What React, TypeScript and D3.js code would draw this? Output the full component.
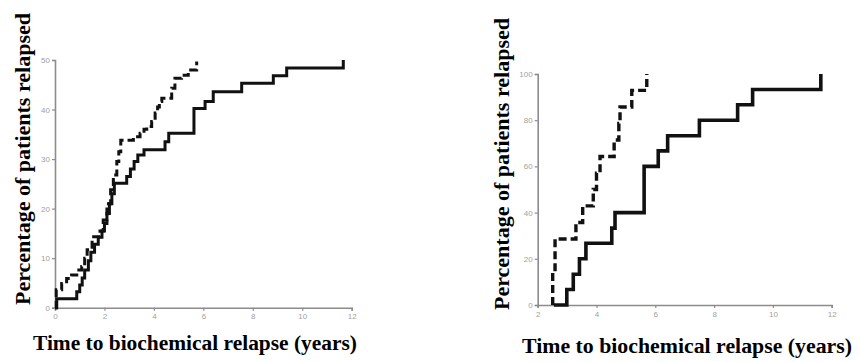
import React, { useEffect, useRef } from 'react';
import * as d3 from 'd3';

// left panel: years / cumulative % relapsed
const leftSolidYears = [0, 0.07, 0.88, 1.0, 1.1, 1.2, 1.35, 1.45, 1.6, 1.75, 1.9, 2.0, 2.1, 2.2, 2.3, 2.4, 2.9, 3.05, 3.2, 3.35, 3.6, 4.45, 4.6, 5.62, 6.07, 6.4, 7.55, 8.83, 9.37, 11.66];
const leftSolidPct = [0, 1.8, 3.2, 4.6, 6.0, 7.6, 9.5, 11.2, 12.8, 14.2, 15.5, 17.0, 19.0, 21.0, 23.0, 25.1, 26.5, 28.0, 29.5, 30.8, 31.9, 33.5, 35.2, 40.2, 41.6, 43.6, 45.3, 46.8, 48.4, 50];
const leftDashedYears = [0, 0.05, 0.27, 0.47, 0.67, 0.88, 1.08, 1.2, 1.3, 1.5, 1.82, 1.95, 2.1, 2.25, 2.36, 2.5, 2.58, 2.66, 3.17, 3.44, 3.6, 3.71, 3.91, 4.05, 4.15, 4.22, 4.32, 4.72, 4.85, 5.12, 5.39, 5.73];
const leftDashedPct = [0, 3.6, 4.9, 5.9, 6.6, 7.6, 8.3, 10.0, 11.7, 14.3, 15.5, 17.7, 21.0, 23.8, 26.8, 29.5, 31.5, 33.8, 34.5, 35.2, 36.0, 36.6, 37.6, 39.3, 40.5, 41.6, 42.3, 44.3, 46.3, 46.9, 48.0, 49.7];
const leftXTicks = [0, 2, 4, 6, 8, 10, 12];
const leftYTicks = [0, 10, 20, 30, 40, 50];

// right panel
const rightSolidYears = [2.55, 2.99, 3.21, 3.42, 3.64, 4.52, 4.63, 5.62, 6.10, 6.42, 7.50, 8.80, 9.31, 11.63];
const rightSolidPct = [0, 6.7, 13.3, 20, 26.7, 33.3, 40, 60, 66.7, 73.3, 80, 86.7, 93.3, 100];
const rightDashedYears = [2.51, 2.51, 2.59, 3.30, 3.53, 3.89, 4.0, 4.12, 4.6, 4.76, 4.80, 5.2, 5.71];
const rightDashedPct = [0, 14.3, 28.6, 35.7, 42.9, 50, 57.1, 64.3, 71.4, 78.6, 85.7, 92.9, 100];
const rightXTicks = [2, 4, 6, 8, 10, 12];
const rightYTicks = [0, 20, 40, 60, 80, 100];

const xTitle = 'Time to biochemical relapse (years)';
const yTitle = 'Percentage of patients relapsed';

const App = () => {
    const svgRef = useRef<SVGSVGElement>(null);

    useEffect(() => {
        const svg = d3.select(svgRef.current);
        svg.selectAll('*').remove();

        const drawPanel = (cfg: any) => {
            const x = d3.scaleLinear().domain(cfg.xDomain).range(cfg.xRange);
            const y = d3.scaleLinear().domain(cfg.yDomain).range(cfg.yRange);
            const g = svg.append('g');

            // axes
            const xAxis = g.append('g')
                .attr('transform', `translate(0,${cfg.yRange[0]})`)
                .call(d3.axisBottom(x).tickValues(cfg.xTicks).tickSize(3).tickPadding(3).tickFormat(d3.format('d')));
            const yAxis = g.append('g')
                .attr('transform', `translate(${cfg.xRange[0]},0)`)
                .call(d3.axisLeft(y).tickValues(cfg.yTicks).tickSize(3).tickPadding(2).tickFormat(d3.format('d')));
            [xAxis, yAxis].forEach(a => {
                a.select('.domain').attr('stroke', '#8c8c8c').attr('stroke-width', 1.6);
                a.selectAll('.tick line').attr('stroke', '#8c8c8c').attr('stroke-width', 1.2);
                a.selectAll('.tick text').attr('fill', '#a0a0a0').attr('font-size', 8).attr('font-family', 'Arial, sans-serif');
            });

            const line = d3.line<[number, number]>()
                .x(d => x(d[0]))
                .y(d => y(d[1]))
                .curve(d3.curveStepAfter);

            cfg.series.forEach((s: any) => {
                g.append('path')
                    .datum(d3.zip(s.years, s.pct) as [number, number][])
                    .attr('fill', 'none')
                    .attr('stroke', '#111')
                    .attr('stroke-width', s.width)
                    .attr('stroke-dasharray', s.dashed ? '8,4' : null)
                    .attr('d', line);
            });

            // titles
            g.append('text')
                .attr('x', cfg.xTitle[0])
                .attr('y', cfg.xTitle[1])
                .attr('textLength', cfg.xTitle[2])
                .attr('lengthAdjust', 'spacingAndGlyphs')
                .attr('font-family', '"Liberation Serif", serif')
                .attr('font-weight', 'bold')
                .attr('font-size', 20)
                .attr('fill', '#000')
                .text(xTitle);
            g.append('text')
                .attr('transform', `translate(${cfg.yTitle[0]},${cfg.yTitle[1]}) rotate(-90)`)
                .attr('textLength', cfg.yTitle[2])
                .attr('lengthAdjust', 'spacingAndGlyphs')
                .attr('font-family', '"Liberation Serif", serif')
                .attr('font-weight', 'bold')
                .attr('font-size', 20)
                .attr('fill', '#000')
                .text(yTitle);
        };

        drawPanel({
            xDomain: [0, 12], xRange: [55, 351.7],
            yDomain: [0, 50], yRange: [307.7, 60],
            xTicks: leftXTicks, yTicks: leftYTicks,
            series: [
                { years: leftSolidYears, pct: leftSolidPct, dashed: false, width: 3 },
                { years: leftDashedYears, pct: leftDashedPct, dashed: true, width: 3 },
            ],
            xTitle: [33, 350, 324],
            yTitle: [30, 305, 292],
        });

        drawPanel({
            xDomain: [2, 12], xRange: [537.7, 831.7],
            yDomain: [0, 100], yRange: [305, 74],
            xTicks: rightXTicks, yTicks: rightYTicks,
            series: [
                { years: rightSolidYears, pct: rightSolidPct, dashed: false, width: 3.6 },
                { years: rightDashedYears, pct: rightDashedPct, dashed: true, width: 3.4 },
            ],
            xTitle: [522, 353, 330],
            yTitle: [509, 310, 292],
        });
    }, []);

    return (
        <svg ref={svgRef} width={860} height={362}
            style={{ position: 'absolute', left: 0, top: 0, background: '#fff' }} />
    );
};

export default App;
